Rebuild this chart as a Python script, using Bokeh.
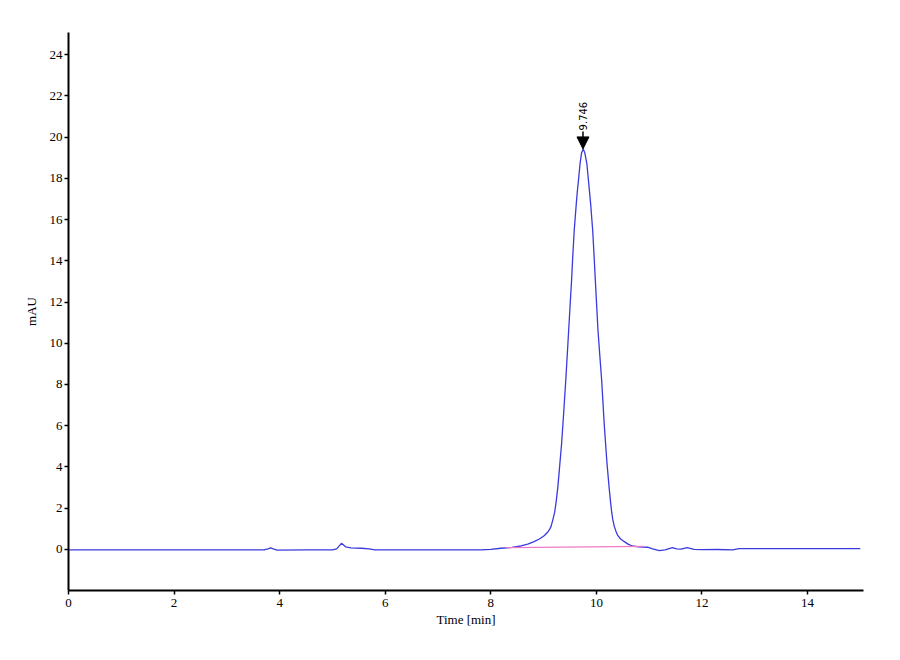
from bokeh.plotting import figure
from bokeh.models import Range1d, FixedTicker, Arrow, NormalHead, ColumnDataSource
from bokeh.embed import file_html
from bokeh.resources import INLINE
from bokeh.core.properties import value
import math

# Chromatogram trace (time in min, signal in mAU)
time_min = [0.00, 1.00, 2.00, 3.00, 3.70, 3.78, 3.83, 3.88, 3.95, 4.50, 5.00, 5.08,
            5.17, 5.25, 5.35, 5.55, 5.70, 5.80, 6.50, 7.30, 7.80, 8.00, 8.19, 8.40,
            8.57, 8.70, 8.82, 8.92, 9.01, 9.08, 9.11, 9.14, 9.17, 9.21, 9.24, 9.27,
            9.30, 9.34, 9.38, 9.42, 9.47, 9.50, 9.53, 9.55, 9.58, 9.62, 9.64, 9.66,
            9.69, 9.72, 9.75, 9.78, 9.82, 9.85, 9.89, 9.93, 9.955, 9.98, 10.005, 10.03,
            10.065, 10.10, 10.15, 10.20, 10.24, 10.27, 10.29, 10.31,
            10.34, 10.37, 10.40, 10.46, 10.53, 10.60, 10.68, 10.80, 10.97, 11.05,
            11.19, 11.30, 11.44, 11.52, 11.60, 11.72, 11.85, 12.00, 12.30, 12.58,
            12.70, 13.50, 14.30, 15.00]
signal_mau = [-0.03, -0.03, -0.03, -0.03, -0.03, 0.02, 0.07, 0.02, -0.04, -0.03, -0.03, 0.02,
              0.29, 0.12, 0.07, 0.05, 0.02, -0.03, -0.03, -0.03, -0.03, 0.00, 0.05, 0.09,
              0.16, 0.25, 0.37, 0.50, 0.66, 0.84, 0.95, 1.10, 1.38, 1.80, 2.35, 3.03,
              3.90, 5.10, 6.60, 8.20, 10.40, 11.75, 13.05, 14.10, 15.47, 16.80, 17.40, 17.89,
              18.70, 19.25, 19.43, 19.25, 18.70, 17.89, 16.80, 15.47, 14.30, 13.05, 11.85, 10.63,
              9.40, 8.20, 6.00, 4.20, 3.03, 2.25, 1.80, 1.45,
              1.10, 0.88, 0.69, 0.50, 0.37, 0.25, 0.16, 0.12, 0.10, 0.03,
              -0.07, -0.03, 0.08, 0.02, 0.01, 0.08, 0.00, -0.02, -0.01, -0.03,
              0.03, 0.03, 0.03, 0.03]

# Integration baseline (pink)
baseline_time = [8.28, 10.90]
baseline_mau = [0.08, 0.14]

# Peak annotation
peak_time = [9.746]
peak_height = [19.43]
peak_label = ["9.746"]

x_ticks = [0, 2, 4, 6, 8, 10, 12, 14]
y_ticks = [0, 2, 4, 6, 8, 10, 12, 14, 16, 18, 20, 22, 24]

W, H = 880, 640
p = figure(width=W, height=H, output_backend="svg", toolbar_location=None,
           x_range=Range1d(0, 15.06), y_range=Range1d(-2, 25.08),
           min_border_left=68, min_border_right=17, min_border_top=32, min_border_bottom=50)
p.outline_line_color = None
p.background_fill_color = "white"
p.border_fill_color = "white"
p.xgrid.visible = False
p.ygrid.visible = False

serif = "Liberation Serif"
for ax in (p.xaxis[0], p.yaxis[0]):
    ax.axis_line_color = "black"
    ax.axis_line_width = 2
    ax.major_tick_line_color = "black"
    ax.major_tick_line_width = 1.5
    ax.major_tick_in = 0
    ax.major_tick_out = 4
    ax.minor_tick_line_color = None
    ax.major_label_text_font = serif
    ax.major_label_text_font_size = "13px"
    ax.major_label_text_color = "black"
    ax.axis_label_text_font = serif
    ax.axis_label_text_font_size = "13px"
    ax.axis_label_text_font_style = "normal"
    ax.axis_label_text_color = "black"

p.xaxis.ticker = FixedTicker(ticks=x_ticks)
p.yaxis.ticker = FixedTicker(ticks=y_ticks)
p.xaxis.axis_label = "Time [min]"
p.yaxis.axis_label = "mAU"
p.xaxis.major_label_standoff = 4
p.xaxis.axis_label_standoff = 2
p.yaxis.major_label_standoff = 2
p.yaxis.axis_label_standoff = 8

p.line(time_min, signal_mau, line_color="#3a3ade", line_width=1.3)
p.line(baseline_time, baseline_mau, line_color="#f07ac8", line_width=1.3)

# peak marker arrow and label
arrow_len = 0.85
src = ColumnDataSource(dict(x=peak_time, y=[h + arrow_len for h in peak_height],
                            ye=peak_height, label=peak_label))
p.add_layout(Arrow(end=NormalHead(size=12, fill_color="black", line_color="black"),
                   x_start="x", y_start="y", x_end="x", y_end="ye", source=src,
                   line_color="black", line_width=1.5))
p.text(x="x", y="y", text="label", source=src, angle=math.pi / 2,
       text_align="left", text_baseline="middle", x_offset=0, y_offset=-1,
       text_font=value("DejaVu Sans"), text_font_size="10px", text_color="black")

open("out.html", "w").write(file_html(p, INLINE))
